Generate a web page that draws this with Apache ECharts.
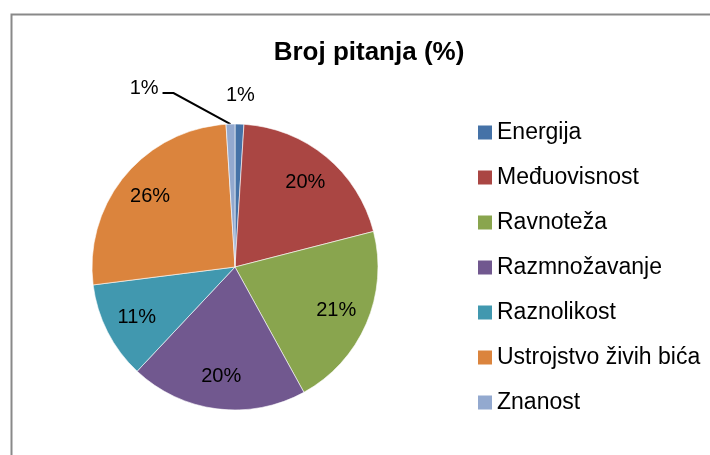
<!DOCTYPE html>
<html>
<head>
<meta charset="utf-8">
<script src="https://cdn.jsdelivr.net/npm/echarts@6/dist/echarts.min.js"></script>
<style>
html,body{margin:0;padding:0;background:#fff;}
#chart{width:710px;height:455px;}
</style>
</head>
<body>
<div id="chart"></div>
<script>
const categories = ['Energija', 'Međuovisnost', 'Ravnoteža', 'Razmnožavanje', 'Raznolikost', 'Ustrojstvo živih bića', 'Znanost'];
const values = [1, 20, 21, 20, 11, 26, 1];
const colors = ['#4572A7', '#AA4643', '#89A54E', '#71588F', '#4198AF', '#DB843D', '#93A9CF'];
const titleText = 'Broj pitanja (%)';

const FONT = '"Liberation Sans", Arial, sans-serif';
const CX = 235, CY = 267, R = 143;
const outerLabelNames = ['Energija'];      // label placed just outside, no line
const leaderLabelNames = ['Znanost'];      // label with leader line
const pct = p => Math.round(p.percent) + '%';

const chart = echarts.init(document.getElementById('chart'), null, {renderer: 'canvas'});

const mainData = categories.map((n, i) => {
  const item = {name: n, value: values[i], itemStyle: {color: colors[i]}};
  if (leaderLabelNames.includes(n)) {
    item.label = {show: true, position: 'outside'};
    item.labelLine = {show: true, length: 31, length2: 67};
  }
  return item;
});
const innerLabelData = categories.map((n, i) => ({
  name: n, value: values[i],
  label: {show: !outerLabelNames.includes(n) && !leaderLabelNames.includes(n)}
}));
const outerLabelData = categories.map((n, i) => ({
  name: n, value: values[i],
  label: {show: outerLabelNames.includes(n)}
}));

const option = {
  animation: false,
  backgroundColor: '#fff',
  title: {
    text: titleText,
    left: 364, top: 35, textAlign: 'center',
    textStyle: {fontFamily: FONT, fontSize: 26, fontWeight: 'bold', color: '#000'}
  },
  graphic: [{
    type: 'rect', left: 9, top: 12, silent: true,
    shape: {width: 760, height: 500},
    style: {fill: 'none', stroke: '#898989', lineWidth: 2}
  }],
  legend: {
    data: categories,
    orient: 'vertical',
    left: 473, top: 116,
    itemWidth: 14, itemHeight: 14, itemGap: 22,
    icon: 'rect',
    itemStyle: {borderWidth: 0},
    textStyle: {fontFamily: FONT, fontSize: 23, color: '#000'}
  },
  series: [
    {
      type: 'pie',
      center: [CX, CY], radius: R,
      startAngle: 90, clockwise: true,
      avoidLabelOverlap: false,
      itemStyle: {borderColor: '#fff', borderWidth: 0.6},
      label: {show: false, formatter: pct, fontFamily: FONT, fontSize: 20, color: '#000', distanceToLabelLine: 4},
      labelLine: {lineStyle: {color: '#000', width: 2}},
      labelLayout: function (p) {
        if (!leaderLabelNames.includes(categories[p.dataIndex]) || !p.labelLinePoints) return {};
        const pts = p.labelLinePoints;
        const end = pts[2];
        return {
          dy: -5,
          labelLinePoints: [pts[0], [end[0] + 11, end[1]], end]
        };
      },
      emphasis: {disabled: true},
      data: mainData
    },
    {
      type: 'pie', silent: true,
      center: [CX, CY], radius: [R * 0.5, R],
      startAngle: 90, clockwise: true,
      avoidLabelOverlap: false,
      itemStyle: {color: 'rgba(0,0,0,0)'},
      label: {position: 'inside', formatter: pct, fontFamily: FONT, fontSize: 20, color: '#000'},
      labelLine: {show: false},
      emphasis: {disabled: true},
      data: innerLabelData
    },
    {
      type: 'pie', silent: true,
      center: [CX, CY], radius: [R, R + 52],
      startAngle: 90, clockwise: true,
      avoidLabelOverlap: false,
      itemStyle: {color: 'rgba(0,0,0,0)'},
      label: {position: 'inside', formatter: pct, fontFamily: FONT, fontSize: 20, color: '#000'},
      labelLine: {show: false},
      emphasis: {disabled: true},
      data: outerLabelData
    }
  ]
};
chart.setOption(option);
</script>
</body>
</html>
